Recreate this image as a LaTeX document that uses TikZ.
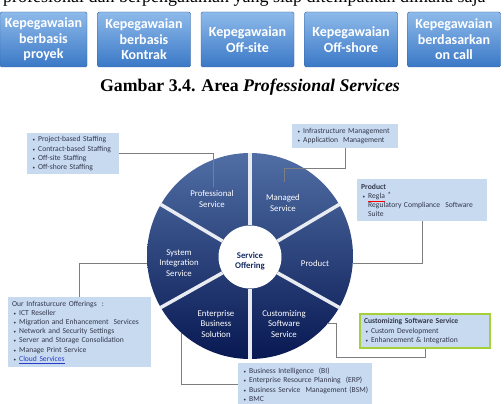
\documentclass[tikz,border=0pt]{standalone}
\usepackage{fontspec}
\setmainfont{Liberation Serif}
\newfontfamily\calib{Carlito}
\usetikzlibrary{positioning}
\definecolor{boxblue}{RGB}{200,218,240}
\definecolor{boxtext}{RGB}{50,55,75}
\definecolor{wheeltop}{RGB}{80,110,165}
\definecolor{wheelbot}{RGB}{8,24,82}
\definecolor{navy}{RGB}{25,45,100}
\definecolor{limegreen}{RGB}{164,208,58}
\definecolor{tabtop}{RGB}{142,186,234}
\definecolor{tabbot}{RGB}{58,120,198}
\definecolor{tabline}{RGB}{55,100,160}
\definecolor{linkblue}{RGB}{40,60,200}
\definecolor{gapwhite}{RGB}{232,236,242}
\definecolor{linegray}{RGB}{125,125,130}
\newcommand{\bul}{\makebox[7pt][l]{\hspace{1.5pt}\tiny\textbullet}}

\begin{document}
\begin{tikzpicture}[x=1pt,y=-1pt,
	tabbox/.style={draw=tabline, rounded corners=1.5pt, top color=tabtop, bottom color=tabbot, text=white, font=\calib\bfseries\fontsize{14}{15.5}\selectfont, align=center, minimum width=93pt, minimum height=55pt, inner sep=1pt},
	infobox/.style={fill=boxblue, text=boxtext, font=\calib\fontsize{7.6}{9.2}\selectfont, align=left, anchor=north west, inner xsep=4pt, inner ysep=2.5pt},
	seglabel/.style={text=white, font=\calib\fontsize{8.8}{10.5}\selectfont, align=center},
	gapline/.style={draw=gapwhite, line width=3.5pt},
	connector/.style={draw=linegray, line width=0.7pt}]
	\useasboundingbox (0,0) rectangle (504,404);
	\begin{scope}
		\clip (0,0) rectangle (504,404);
		\node[anchor=base west, inner sep=0pt, font=\fontsize{18}{20}\selectfont] (topline) at (3,3) {profesional dan berpengalaman yang siap ditempatkan dimana saja};
	\end{scope}
	\node[tabbox, minimum width=87pt] (tab1) at (43.5,39.5) {Kepegawaian\\berbasis\\proyek};
	\node[tabbox] (tab2) at (144,39.5) {Kepegawaian\\berbasis\\Kontrak};
	\node[tabbox] (tab3) at (247.5,39.5) {Kepegawaian\\Off-site};
	\node[tabbox] (tab4) at (351,39.5) {Kepegawaian\\Off-shore};
	\node[tabbox] (tab5) at (454,39.5) {Kepegawaian\\berdasarkan\\on call};
	\node[font=\fontsize{17.8}{20}\selectfont] (caption) at (250,87) {\bfseries Gambar 3.4. Area \textit{Professional Services}};

	\node[circle, minimum size=206pt, inner sep=0pt, top color=wheeltop, bottom color=wheelbot] (wheel) at (250,256) {};
	\node[circle, minimum size=63pt, inner sep=0pt, fill=white] (hub) at (250,257) {};
	\foreach \a in {30,90,...,330}
		\draw[gapline] (hub.\a) -- (wheel.\a);
	\node[text=navy, font=\calib\bfseries\fontsize{8.8}{10.5}\selectfont, align=center] (offer) at (250,261) {Service\\Offering};
	\node[seglabel] (prof) at (212,199) {Professional\\Service};
	\node[seglabel] (managed) at (283,203) {Managed\\Service};
	\node[seglabel] (product) at (315,263) {Product};
	\node[seglabel] (custom) at (284,324) {Customizing\\Software\\Service};
	\node[seglabel] (enterprise) at (216,324) {Enterprise\\Business\\Solution};
	\node[seglabel] (sysint) at (179,263) {System\\Integration\\Service};

	\node[infobox, text width=84pt, minimum height=41pt] (profbox) at (27,133) {\bul Project-based Staffing\\\bul Contract-based Staffing\\\bul Off-site Staffing\\\bul Off-shore Staffing};
	\node[infobox, text width=98pt, minimum height=24pt] (mgdbox) at (292,124) {\bul Infrastructure Management\\\bul Application\ \ Management};
	\node[infobox, text width=122pt, minimum height=42pt] (prodbox) at (357,179) {\textbf{Product}\\\bul {\color{red}\underline{\textcolor{boxtext}{Regla}}} \raisebox{1pt}{*}\\\hspace*{7pt}Regulatory Compliance\ \ Software\\\hspace*{7pt}Suite};
	\node[infobox, text width=122pt, minimum height=34pt, draw=limegreen, line width=2pt] (custbox) at (359,313) {\textbf{Customizing Software Service}\\\bul Custom Development\\\bul Enhancement \& Integration};
	\node[infobox, text width=126pt, minimum height=43pt] (bibox) at (238,363) {\bul Business Intelligence\ \ (BI)\\\bul Enterprise Resource Planning\ \ (ERP)\\\bul Business Service\ \ Management (BSM)\\\bul BMC};
	\node[infobox, text width=135pt, minimum height=70pt] (infrabox) at (8,297) {Our Infrasturcure Offerings\ \ :\\\bul ICT Reseller\\\bul Migration and Enhancement\ \ Services\\\bul Network and Security Settings\\\bul Server and Storage Consolidation\\\bul Manage Print Service\\\bul \textcolor{linkblue}{\underline{Cloud Services}}};

	\coordinate (profend) at (213,187);
	\coordinate (mgdend) at (284,182);
	\coordinate (custend) at (327,323);
	\coordinate (entend) at (181,333);
	\draw[connector] (profbox.east) -| (profend);
	\draw[connector] (mgdbox.south) |- (284,168) -- (mgdend);
	\draw[connector] (prodbox.south) |- (wheel.-4);
	\draw[connector] (custbox.south) |- (336,357) |- (custend);
	\draw[connector] (bibox.west) -| (entend);
	\draw[connector] (infrabox.north) |- (wheel.184);
\end{tikzpicture}
\end{document}
